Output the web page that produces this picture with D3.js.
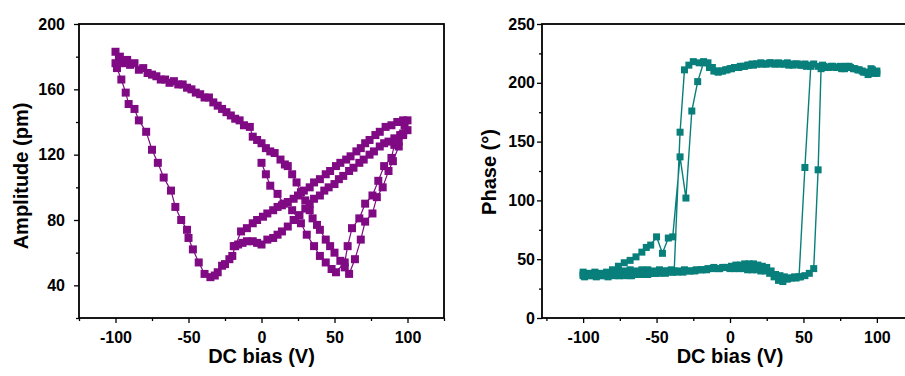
<!DOCTYPE html>
<html>
<head>
<meta charset="utf-8">
<script src="https://cdnjs.cloudflare.com/ajax/libs/d3/7.8.5/d3.min.js"></script>
<style>
	body { margin: 0; background: #fff; }
	svg text { font-family: "Liberation Sans", Arial, sans-serif; font-weight: bold; fill: #000; }
</style>
</head>
<body>
<svg id="chart" width="905" height="376"></svg>
<script>
// ---- amplitude loop (DC bias in V, amplitude in pm), in sweep order ----
const ampBias1 = [0, 3, 6, 11, 15, 21, 27, 31, 36, 40, 44, 48, 51, 57, 59, 62, 67, 71, 76, 80, 84, 89, 91, 95, 98, 100];
const ampVal1 = [115, 108, 101, 96, 90, 86, 78, 71, 64, 58, 54, 50, 48, 54, 64, 75, 81, 90, 95, 104, 113, 118, 126, 132, 138, 141];

const ampBias2 = [97, 93, 89, 85, 81, 78, 74, 71, 68, 65, 61, 58, 54, 51, 47, 44, 40, 36, 33, 29,
	25, 22, 18, 14, 11, 8, 4, 1, -3, -6, -10, -14, -18, -20, -22, -25, -27, -30, -32, -35,
	-39, -43, -47, -50, -51, -55, -59, -62, -67, -71, -75, -79, -84, -87, -91, -93, -96, -99, -100];
const ampVal2 = [141, 140, 138, 137, 134, 132, 129, 127, 124, 122, 119, 117, 115, 113, 110, 108, 105, 103, 100, 98,
	95, 93, 91, 89, 88, 86, 84, 82, 80, 78, 75, 73, 64, 58, 56, 53, 52, 48, 46, 45,
	47, 54, 62, 69, 74, 80, 88, 98, 106, 115, 123, 134, 141, 148, 151, 158, 166, 173, 176];

const ampBias3 = [-100, -97, -95, -92, -90, -87, -84, -81, -78, -75, -72, -69, -66, -63, -60, -57, -54, -51, -48, -45,
	-42, -39, -36, -33, -30, -27, -24, -21, -18, -15, -12, -8, -6, -3, 0, 3, 6, 9, 13, 16,
	18, 21, 24, 27, 30, 33, 35, 38, 40, 44, 47, 50, 54, 57, 60, 64, 68, 71, 76, 79,
	83, 87, 90, 94, 97, 100];
const ampVal3 = [183, 180, 176, 178, 175, 176, 172, 173, 170, 169, 168, 166, 166, 164, 165, 163, 163, 161, 160, 158,
	157, 155, 155, 152, 150, 148, 146, 144, 142, 141, 138, 137, 131, 129, 127, 124, 122, 121, 117, 114,
	113, 108, 103, 97, 92, 86, 81, 77, 74, 68, 64, 60, 55, 51, 47, 56, 68, 79, 84, 94,
	100, 110, 116, 125, 132, 135];

const ampBias4 = [97, 94, 91, 87, 84, 81, 77, 74, 70, 67, 63, 60, 56, 53, 50, 46, 43, 40, 36, 33,
	30, 26, 22, 18, 14, 11, 8, 4, 0, -3, -6, -10, -13, -16, -19];
const ampVal4 = [133, 128, 130, 128, 127, 125, 122, 120, 117, 115, 112, 110, 107, 105, 102, 100, 98, 95, 93, 90,
	87, 83, 80, 76, 73, 71, 69, 68, 65, 66, 67, 67, 66, 65, 64];

// ---- phase loop (DC bias in V, phase in degrees), in sweep order ----
const phBias1 = [-100, -96, -92, -88, -84, -80, -76, -72, -68, -64, -60, -56, -52, -48, -44, -40, -38, -34, -31, -28,
	-25, -21, -18, -15, -12, -9, -6, -3, 0, 3, 6, 9, 12, 15, 18, 21, 24, 27, 30, 33,
	36, 39, 42, 45, 48, 51, 54, 57, 60, 63, 66, 69, 72, 75, 78, 81, 84, 87, 90, 93,
	96, 98, 100];
const phVal1 = [39, 38, 39, 38, 39, 40, 39, 40, 41, 40, 41, 41, 40, 41, 40, 41, 40, 158, 211, 215,
	218, 217, 218, 217, 213, 210, 210, 211, 212, 213, 213, 214, 215, 216, 216, 217, 216, 217, 216, 217,
	216, 217, 216, 216, 215, 216, 215, 216, 214, 215, 213, 214, 213, 214, 212, 214, 212, 211, 210, 209,
	212, 208, 210];

const phBias2 = [100, 97, 94, 91, 88, 85, 82, 79, 76, 73, 70, 67, 64, 62, 60, 57, 54, 51, 48, 45,
	42, 39, 36, 33, 30, 27, 24, 21, 18, 15, 12, 9, 6, 3, 0, -3, -7, -11, -15, -19,
	-23, -27, -31, -35, -39, -43, -47, -51, -55, -59, -63, -67, -71, -75, -79, -83, -87, -91, -95, -99];
const phVal2 = [208, 211, 207, 209, 211, 212, 213, 214, 212, 213, 214, 213, 214, 212, 126, 42, 38, 36, 35, 34,
	34, 33, 31, 32, 35, 38, 40, 40, 41, 41, 41, 42, 42, 42, 42, 43, 42, 43, 42, 41,
	41, 40, 41, 40, 39, 40, 39, 38, 38, 37, 37, 36, 37, 36, 36, 35, 36, 35, 36, 35];

const phBias3 = [-100, -96, -92, -88, -84, -80, -76, -72, -68, -64, -60, -57, -54, -50, -46, -42, -39, -34, -30, -26,
	-22, -18, -14, -11, -8, -5, -2, 1, 4, 7, 10, 13, 16, 19, 22, 25, 28, 31, 34, 37,
	40, 43, 46, 49, 52, 55, 51, 47, 44, 40, 37, 34, 31, 28, 25, 22, 19, 16, 13, 10,
	7, 4, 1, -2, -5, -8, -12, -16, -20, -24, -28, -32, -36, -40, -44, -48, -52, -56, -60, -64,
	-68, -72, -76, -80, -84, -88, -92, -96, -100];
const phVal3 = [36, 37, 36, 37, 38, 41, 44, 47, 49, 52, 56, 60, 62, 69, 55, 68, 69, 137, 102, 176,
	201, 217, 213, 210, 209, 210, 211, 212, 213, 214, 214, 215, 215, 216, 216, 216, 217, 216, 216, 216,
	215, 215, 216, 215, 214, 214, 128, 35, 35, 34, 35, 36, 37, 40, 43, 44, 45, 46, 46, 46,
	45, 45, 44, 43, 43, 42, 42, 41, 41, 40, 40, 39, 39, 39, 38, 38, 38, 37, 37, 37,
	36, 36, 36, 37, 36, 36, 37, 36, 37];

// axis ticks
const ampXMajor = [-100, -50, 0, 50, 100];
const ampXMinor = [-125, -75, -25, 25, 75, 125];
const ampYMajor = [40, 80, 120, 160, 200];
const ampYMinor = [20, 60, 100, 140, 180];
const phXMajor = [-100, -50, 0, 50, 100];
const phXMinor = [-125, -75, -25, 25, 75, 125];
const phYMajor = [0, 50, 100, 150, 200, 250];
const phYMinor = [25, 75, 125, 175, 225];

function toPoints(biasArrays, valArrays) {
	var pts = [];
	biasArrays.forEach(function (b, k) {
		b.forEach(function (v, i) {
			pts.push({ x: v, y: valArrays[k][i] });
		});
	});
	return pts;
}

var svg = d3.select("#chart");

function drawPanel(cfg) {
	var xScale = d3.scaleLinear().domain(cfg.xDomain).range([cfg.left, cfg.right]);
	var yScale = d3.scaleLinear().domain(cfg.yDomain).range([cfg.bottom, cfg.top]);
	var g = svg.append("g");

	// minor ticks
	g.append("g")
		.attr("transform", "translate(0," + cfg.bottom + ")")
		.call(d3.axisBottom(xScale).tickValues(cfg.xMinor).tickSize(3).tickFormat(""));
	g.append("g")
		.attr("transform", "translate(" + cfg.left + ",0)")
		.call(d3.axisLeft(yScale).tickValues(cfg.yMinor).tickSize(3).tickFormat(""));

	// major ticks
	g.append("g")
		.attr("transform", "translate(0," + cfg.bottom + ")")
		.call(d3.axisBottom(xScale).tickValues(cfg.xMajor).tickSize(5).tickPadding(9)
			.tickFormat(function (d) { return d; }));
	g.append("g")
		.attr("transform", "translate(" + cfg.left + ",0)")
		.call(d3.axisLeft(yScale).tickValues(cfg.yMajor).tickSize(5).tickPadding(cfg.yPad)
			.tickFormat(function (d) { return d; }));

	g.selectAll(".domain").remove();
	g.selectAll(".tick line").attr("stroke", "#000").attr("stroke-width", 1.3);
	g.selectAll(".tick text").style("font-size", "16px");

	// frame
	g.append("rect")
		.attr("x", cfg.left)
		.attr("y", cfg.top)
		.attr("width", cfg.right - cfg.left)
		.attr("height", cfg.bottom - cfg.top)
		.attr("fill", "none")
		.attr("stroke", "#000")
		.attr("stroke-width", 1.8);

	// data: connecting line + square markers
	var line = d3.line()
		.x(function (d) { return xScale(d.x); })
		.y(function (d) { return yScale(d.y); });

	g.append("path")
		.datum(cfg.data)
		.attr("d", line)
		.attr("fill", "none")
		.attr("stroke", cfg.color)
		.attr("stroke-width", cfg.lineWidth);

	g.selectAll(".mark")
		.data(cfg.data)
		.enter()
		.append("rect")
		.attr("class", "mark")
		.attr("x", function (d) { return xScale(d.x) - cfg.size / 2; })
		.attr("y", function (d) { return yScale(d.y) - cfg.size / 2; })
		.attr("width", cfg.size)
		.attr("height", cfg.size)
		.attr("fill", cfg.color);

	// axis titles
	g.append("text")
		.attr("x", xScale(0))
		.attr("y", 363)
		.attr("text-anchor", "middle")
		.style("font-size", "20px")
		.text("DC bias (V)");

	g.append("text")
		.attr("transform", "translate(" + cfg.yTitleX + "," + cfg.yTitleY + ")rotate(-90)")
		.attr("text-anchor", "middle")
		.style("font-size", "20px")
		.text(cfg.yTitle);
}

drawPanel({
	left: 79, right: 444, top: 24, bottom: 318,
	xDomain: [-125, 125], yDomain: [20, 200],
	xMajor: ampXMajor, xMinor: ampXMinor, yMajor: ampYMajor, yMinor: ampYMinor,
	yPad: 9,
	data: toPoints([ampBias1, ampBias2, ampBias3, ampBias4], [ampVal1, ampVal2, ampVal3, ampVal4]),
	color: "#7f0a84", size: 8, lineWidth: 1.2,
	yTitle: "Amplitude (pm)", yTitleX: 28, yTitleY: 176
});

drawPanel({
	left: 542, right: 918, top: 24, bottom: 318,
	xDomain: [-128, 128], yDomain: [0, 250],
	xMajor: phXMajor, xMinor: phXMinor, yMajor: phYMajor, yMinor: phYMinor,
	yPad: 2,
	data: toPoints([phBias1, phBias2, phBias3], [phVal1, phVal2, phVal3]),
	color: "#087f7b", size: 7, lineWidth: 1.4,
	yTitle: "Phase (\u00b0)", yTitleX: 496, yTitleY: 172
});
</script>
</body>
</html>
